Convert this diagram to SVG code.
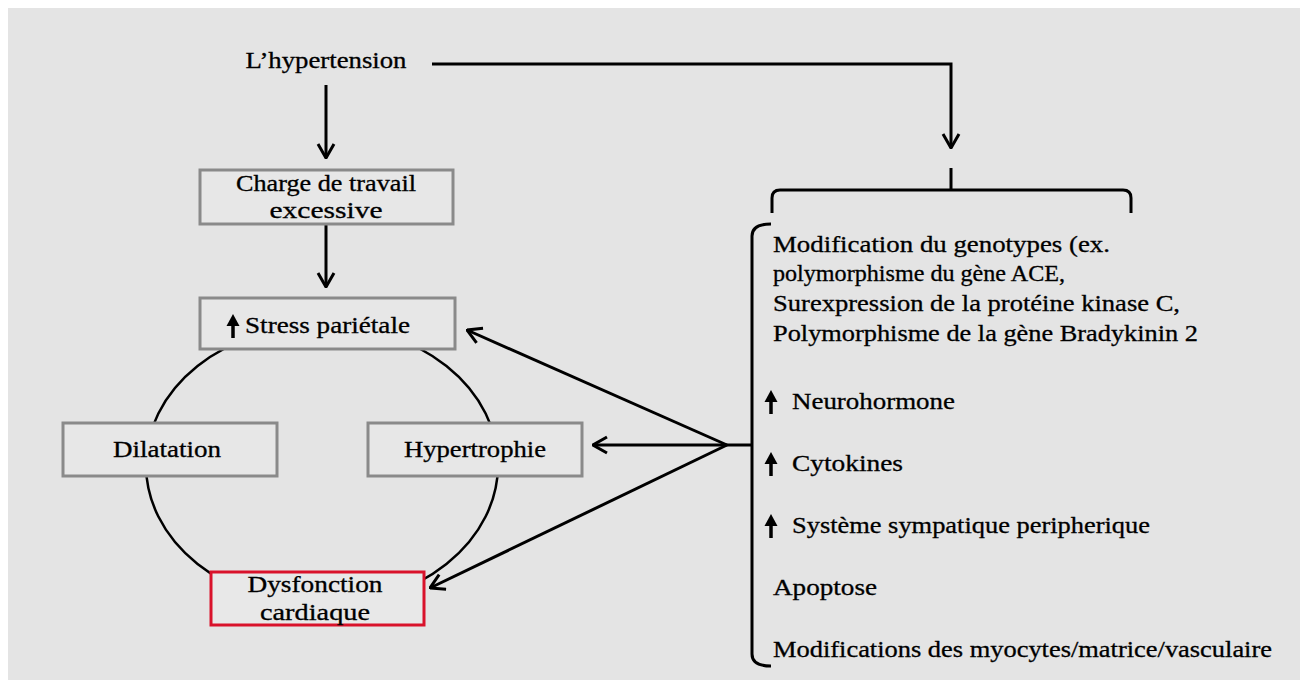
<svg xmlns="http://www.w3.org/2000/svg" xmlns:xlink="http://www.w3.org/1999/xlink" width="1308" height="688" viewBox="0 0 1308 688">
<style>
.bg{fill:#e4e4e4}
.box{fill:#e7e7e7;stroke:#8a8a8a;stroke-width:3}
.red{fill:#e8e8e8;stroke:#d9122b;stroke-width:3}
.t{font-family:"Liberation Serif","Times New Roman",serif;font-size:23px;fill:#000;stroke:#000;stroke-width:0.3}
.c{text-anchor:middle}
.ln{fill:none;stroke:#000;stroke-width:3}
.arc{fill:none;stroke:#000;stroke-width:2.5}
</style>
<defs>
<marker id="ah" markerUnits="userSpaceOnUse" viewBox="0 0 16 20" refX="15" refY="10" markerWidth="16" markerHeight="20" orient="auto">
<path d="M1,2 L15,10 L1,18" fill="none" stroke="#000" stroke-width="3"/>
</marker>
<g id="up">
<line x1="0" y1="12" x2="0" y2="-4" stroke="#000" stroke-width="3.5"/>
<polygon points="-6.5,0 0,-12 6.5,0" fill="#000"/>
</g>
</defs>
<rect width="1308" height="688" fill="#ffffff"/>
<rect class="bg" x="8" y="8" width="1292" height="672"/>

<ellipse class="arc" cx="322" cy="465" rx="176" ry="140"/>

<g id="connectors">
<path class="ln" d="M432,64 H951 V148" marker-end="url(#ah)"/>
<path class="ln" d="M951,168 V190"/>
<path class="ln" d="M772,213 V198 Q772,190 780,190 H1123 Q1131,190 1131,198 V213"/>
<path class="ln" d="M771,224 Q752,224 752,236 V654 Q752,666 771,666"/>
<path class="ln" d="M727,445 H752"/>
<path class="ln" d="M326,85 V158" marker-end="url(#ah)"/>
<path class="ln" d="M326,225 V287" marker-end="url(#ah)"/>
<path class="ln" d="M727,445 L467,330" marker-end="url(#ah)"/>
<path class="ln" d="M727,445 L593,445" marker-end="url(#ah)"/>
<path class="ln" d="M727,445 L430,588" marker-end="url(#ah)"/>
</g>

<g id="hypertension">
<text class="t c" x="326" y="68" textLength="161" lengthAdjust="spacingAndGlyphs">L’hypertension</text>
</g>

<g id="charge">
<rect class="box" x="200" y="170" width="253" height="54"/>
<text class="t c" x="326" y="191" textLength="180" lengthAdjust="spacingAndGlyphs">Charge de travail</text>
<text class="t c" x="326" y="218" textLength="113" lengthAdjust="spacingAndGlyphs">excessive</text>
</g>

<g id="stress">
<rect class="box" x="200" y="298" width="255" height="51"/>
<use xlink:href="#up" x="233" y="326"/>
<text class="t" x="245" y="333" textLength="165" lengthAdjust="spacingAndGlyphs">Stress pariétale</text>
</g>

<g id="dilatation">
<rect class="box" x="63" y="423" width="214" height="53"/>
<text class="t c" x="167" y="457" textLength="108" lengthAdjust="spacingAndGlyphs">Dilatation</text>
</g>

<g id="hypertrophie">
<rect class="box" x="368" y="423" width="214" height="53"/>
<text class="t c" x="475" y="457" textLength="142" lengthAdjust="spacingAndGlyphs">Hypertrophie</text>
</g>

<g id="dysfonction">
<rect class="red" x="211" y="572" width="213" height="53"/>
<text class="t c" x="315" y="592" textLength="135" lengthAdjust="spacingAndGlyphs">Dysfonction</text>
<text class="t c" x="315" y="620" textLength="110" lengthAdjust="spacingAndGlyphs">cardiaque</text>
</g>

<g id="facteurs">
<text class="t" x="773" y="252" textLength="337" lengthAdjust="spacingAndGlyphs">Modification du genotypes (ex.</text>
<text class="t" x="773" y="281" textLength="292" lengthAdjust="spacingAndGlyphs">polymorphisme du gène ACE,</text>
<text class="t" x="773" y="311" textLength="407" lengthAdjust="spacingAndGlyphs">Surexpression de la protéine kinase C,</text>
<text class="t" x="773" y="341" textLength="425" lengthAdjust="spacingAndGlyphs">Polymorphisme de la gène Bradykinin 2</text>
<use xlink:href="#up" x="771" y="402"/>
<text class="t" x="792" y="409" textLength="163" lengthAdjust="spacingAndGlyphs">Neurohormone</text>
<use xlink:href="#up" x="771" y="464"/>
<text class="t" x="792" y="471" textLength="111" lengthAdjust="spacingAndGlyphs">Cytokines</text>
<use xlink:href="#up" x="771" y="526"/>
<text class="t" x="792" y="533" textLength="358" lengthAdjust="spacingAndGlyphs">Système sympatique peripherique</text>
<text class="t" x="773" y="595" textLength="104" lengthAdjust="spacingAndGlyphs">Apoptose</text>
<text class="t" x="773" y="657" textLength="499" lengthAdjust="spacingAndGlyphs">Modifications des myocytes/matrice/vasculaire</text>
</g>
</svg>
